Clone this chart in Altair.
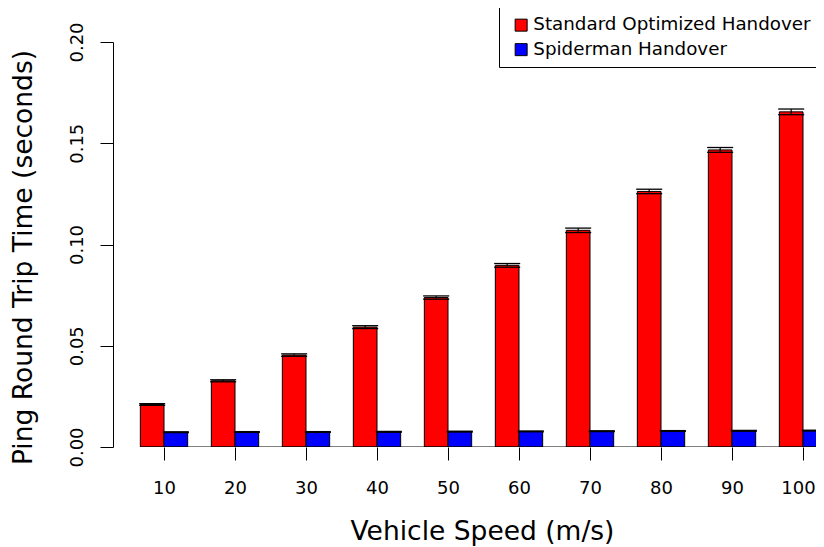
import json
import altair as alt
import pandas as pd

# ---- data ----
speeds = [10, 20, 30, 40, 50, 60, 70, 80, 90, 100]
series_names = ["Standard Optimized Handover", "Spiderman Handover"]
standard_rtt = [0.0210, 0.0327, 0.0454, 0.0592, 0.0738, 0.0897, 0.1070, 0.1262, 0.1467, 0.1655]
standard_err = [0.0004, 0.0005, 0.0006, 0.0007, 0.0008, 0.0009, 0.0011, 0.0011, 0.0012, 0.0014]
spiderman_rtt = [0.0073, 0.0074, 0.0074, 0.0075, 0.0076, 0.0077, 0.0078, 0.0079, 0.0080, 0.0081]
spiderman_err = [0.0002, 0.0002, 0.0002, 0.0002, 0.0002, 0.0002, 0.0002, 0.0002, 0.0002, 0.0002]
y_ticks = [0.0, 0.05, 0.10, 0.15, 0.20]
colors = ["#FF0000", "#0000FF"]

FONT = "DejaVu Sans"

# R barplot(beside=TRUE) layout: bar width 1, group gap 1
rows = []
for i, s in enumerate(speeds):
    for j, (vals, errs) in enumerate([(standard_rtt, standard_err), (spiderman_rtt, spiderman_err)]):
        x0 = 3 * i + 1 + j
        rows.append(dict(speed=s, series=series_names[j], value=vals[i], base=0.0,
                         lo=vals[i] - errs[i], hi=vals[i] + errs[i],
                         x0=x0, x1=x0 + 1, xc=x0 + 0.5, cap0=x0 - 0.05, cap1=x0 + 1.05))
df = pd.DataFrame(rows)

tick_pos = [3 * i + 2 for i in range(len(speeds))]
label_expr = f"{json.dumps([str(s) for s in speeds])}[round((datum.value - 2) / 3)]"

xscale = alt.Scale(domain=[-0.155, 29.549], nice=False, zero=False)
yscale = alt.Scale(domain=[0, 0.2], nice=False, zero=False)

xaxis = alt.Axis(values=tick_pos, labelExpr=label_expr, tickSize=13, tickColor="black", tickWidth=1,
                 domain=False, grid=False, labelFont=FONT, labelFontSize=18, labelColor="black",
                 labelBaseline="alphabetic", labelPadding=33, labelFlush=False, labelOverlap=False,
                 labelOffset={"condition": {"test": f"datum.value == {tick_pos[-1]}", "value": -5}, "value": 0},
                 title="Vehicle Speed (m/s)", titleFont=FONT, titleFontSize=26.5, titleFontWeight="normal",
                 titleColor="black", titleX=369, titleY=92, titleAlign="center", titleBaseline="alphabetic")

yaxis = alt.Axis(values=y_ticks, format=".2f", tickSize=13, tickColor="black", tickWidth=1,
                 domainColor="black", domainWidth=1, grid=False, labelAngle=270, labelAlign="center",
                 labelBaseline="alphabetic", labelPadding=18, labelFont=FONT, labelFontSize=18,
                 labelColor="black", labelOverlap=False, labelFlush=False,
                 title="Ping Round Trip Time (seconds)", titleFont=FONT, titleFontSize=26.5,
                 titleFontWeight="normal", titleColor="black", titleAngle=270, titleX=-82, titleY=215,
                 titleAlign="center", titleBaseline="alphabetic")

legend = alt.Legend(orient="none", legendX=386, legendY=-35, title=None, symbolType="square",
                    symbolSize=144, symbolStrokeColor="black", symbolStrokeWidth=1, symbolOffset=4,
                    labelFont=FONT, labelFontSize=18.3, labelColor="black", labelOffset=3, labelLimit=500,
                    rowPadding=5.5, padding=9, strokeColor="black", fillColor="white")


def X(field):
    return alt.X(field, scale=xscale, axis=xaxis)


def Y(field):
    return alt.Y(field, scale=yscale, axis=yaxis)


bars = alt.Chart(df).mark_rect(stroke="black", strokeWidth=1, clip=True).encode(
    x=X("x0:Q"),
    x2="x1:Q",
    y=Y("value:Q"),
    y2="base:Q",
    color=alt.Color("series:N", scale=alt.Scale(domain=series_names, range=colors), legend=legend),
)

whisker = alt.Chart(df).mark_rule(color="black", strokeWidth=1.2, clip=True).encode(
    x=X("xc:Q"), y=Y("lo:Q"), y2="hi:Q",
)
cap_lo = alt.Chart(df).mark_rule(color="black", strokeWidth=1.3, clip=True).encode(
    x=X("cap0:Q"), x2="cap1:Q", y=Y("lo:Q"),
)
cap_hi = alt.Chart(df).mark_rule(color="black", strokeWidth=1.3, clip=True).encode(
    x=X("cap0:Q"), x2="cap1:Q", y=Y("hi:Q"),
)

axis_df = pd.DataFrame({"start": [df["x0"].min()], "end": [30.0], "zero": [0.0]})
baseline = alt.Chart(axis_df).mark_rule(color="black", strokeWidth=1, clip=True).encode(
    x=X("start:Q"), x2="end:Q", y=Y("zero:Q"),
)

chart = alt.layer(bars, baseline, whisker, cap_lo, cap_hi).properties(
    width=703, height=405,
    autosize=alt.AutoSizeParams(type="none"),
    padding={"left": 105, "top": 34, "right": 0, "bottom": 100},
    background="white",
).configure_view(stroke=None)

chart.save("out.html", embed_options={"renderer": "svg", "actions": False})
